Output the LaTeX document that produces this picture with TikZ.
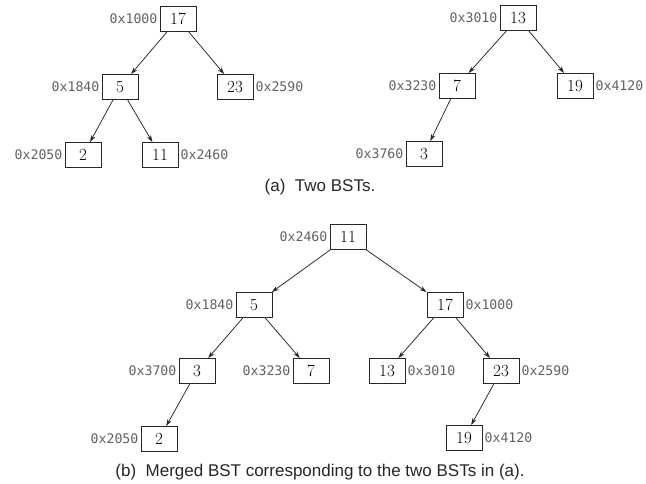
\documentclass[tikz,border=0pt]{standalone}
\usepackage{fontspec}
\setsansfont{Liberation Sans}
\setmonofont{DejaVu Sans Mono}
\usetikzlibrary{arrows.meta}

\begin{document}
\begin{tikzpicture}[x=1pt, y=-1pt,
  key/.style={draw=black!85, line width=0.9pt, minimum width=36pt, minimum height=25pt, inner sep=0pt, font=\fontsize{17}{17}\selectfont},
  addr/.style={text=black!62, inner sep=2pt, font=\ttfamily\fontsize{13.2}{13.2}\selectfont},
  link/.style={-{Stealth[length=7pt,width=4.5pt]}, line width=0.75pt, black!85},
  captext/.style={text=black!85, font=\sffamily\fontsize{17}{17}\selectfont}]
\useasboundingbox (0,0) rectangle (646,484);
% (a) first tree
\node[key] (a17) at (178,19) {17};
\node[addr,left] (a17l) at (a17.west) {0x1000};
\node[key] (a5) at (120,87) {5};
\node[addr,left] (a5l) at (a5.west) {0x1840};
\node[key] (a23) at (235,87) {23};
\node[addr,right] (a23l) at (a23.east) {0x2590};
\node[key] (a2) at (83,155) {2};
\node[addr,left] (a2l) at (a2.west) {0x2050};
\node[key] (a11) at (160,155) {11};
\node[addr,right] (a11l) at (a11.east) {0x2460};
\draw[link] (a17) -- (a5);
\draw[link] (a17) -- (a23);
\draw[link] (a5) -- (a2);
\draw[link] (a5) -- (a11);
% (a) second tree
\node[key] (b13) at (518,18) {13};
\node[addr,left] (b13l) at (b13.west) {0x3010};
\node[key] (b7) at (457,86) {7};
\node[addr,left] (b7l) at (b7.west) {0x3230};
\node[key] (b19) at (575,86) {19};
\node[addr,right] (b19l) at (b19.east) {0x4120};
\node[key] (b3) at (424,154) {3};
\node[addr,left] (b3l) at (b3.west) {0x3760};
\draw[link] (b13) -- (b7);
\draw[link] (b13) -- (b19);
\draw[link] (b7) -- (b3);
\node[captext] (capa) at (320,187) {(a)\ \ Two BSTs.};
% (b) merged tree
\node[key] (m11) at (348,237) {11};
\node[addr,left] (m11l) at (m11.west) {0x2460};
\node[key] (m5) at (254,305) {5};
\node[addr,left] (m5l) at (m5.west) {0x1840};
\node[key] (m17) at (445,305) {17};
\node[addr,right] (m17l) at (m17.east) {0x1000};
\node[key] (m3) at (197,371) {3};
\node[addr,left] (m3l) at (m3.west) {0x3700};
\node[key] (m7) at (311,371) {7};
\node[addr,left] (m7l) at (m7.west) {0x3230};
\node[key] (m13) at (387,371) {13};
\node[addr,right] (m13l) at (m13.east) {0x3010};
\node[key] (m23) at (501,371) {23};
\node[addr,right] (m23l) at (m23.east) {0x2590};
\node[key] (m2) at (159,439) {2};
\node[addr,left] (m2l) at (m2.west) {0x2050};
\node[key] (m19) at (464,438) {19};
\node[addr,right] (m19l) at (m19.east) {0x4120};
\draw[link] (m11) -- (m5);
\draw[link] (m11) -- (m17);
\draw[link] (m5) -- (m3);
\draw[link] (m5) -- (m7);
\draw[link] (m17) -- (m13);
\draw[link] (m17) -- (m23);
\draw[link] (m3) -- (m2);
\draw[link] (m23) -- (m19);
\node[captext] (capb) at (320,472) {(b)\ \ Merged BST corresponding to the two BSTs in (a).};
\end{tikzpicture}
\end{document}
